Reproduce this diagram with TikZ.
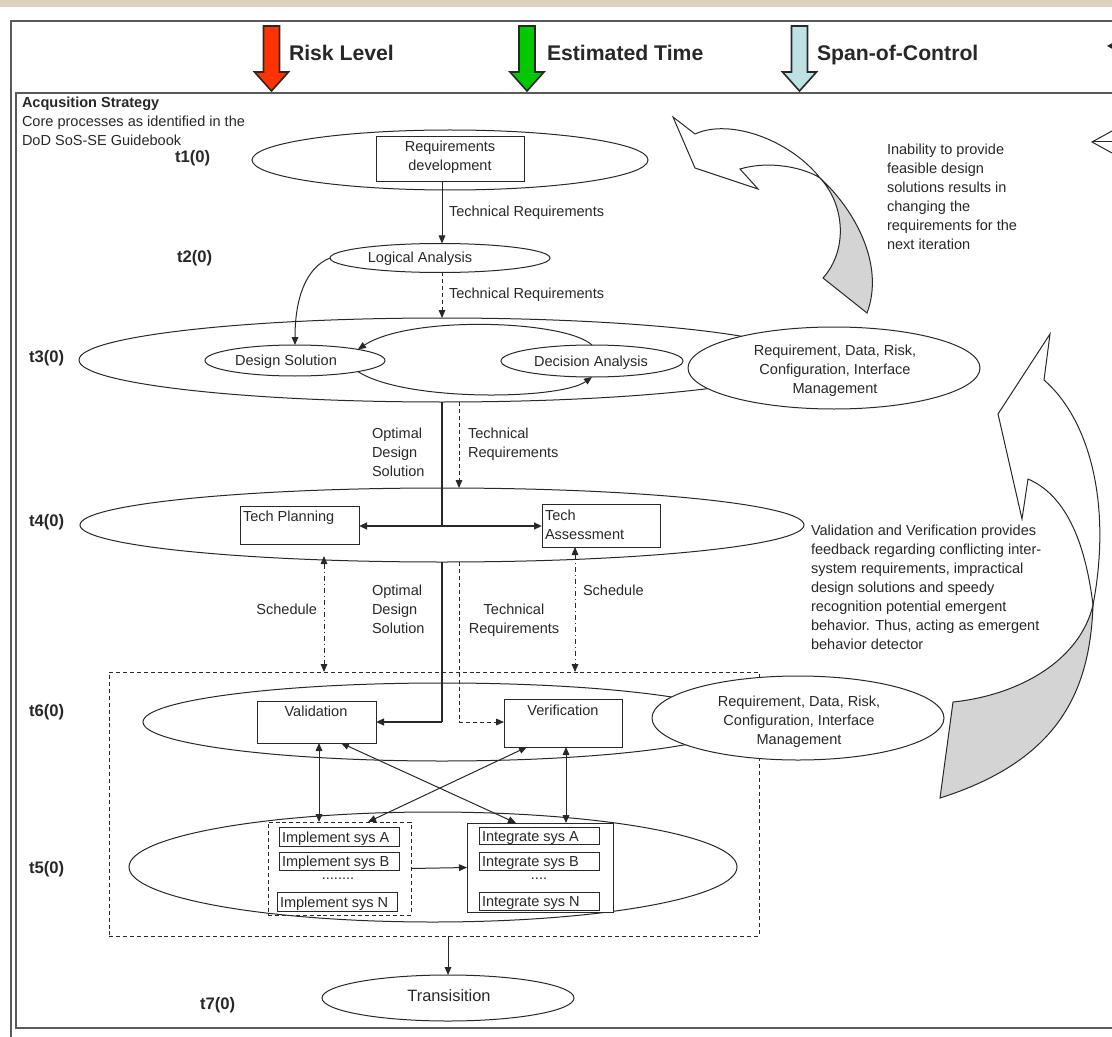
\documentclass[tikz,border=0pt]{standalone}
\usepackage{fontspec}
\setmainfont{Liberation Sans}
\usetikzlibrary{arrows.meta,shapes.geometric,calc}
\definecolor{bandbeige}{RGB}{221,211,195}
\definecolor{riskred}{RGB}{255,51,0}
\definecolor{timegreen}{RGB}{0,200,0}
\definecolor{spanblue}{RGB}{190,226,228}
\definecolor{ribbongray}{RGB}{212,212,212}
\definecolor{ink}{RGB}{40,40,40}
\definecolor{framegray}{RGB}{90,90,90}
\begin{document}
\begin{tikzpicture}[x=0.75pt,y=-0.75pt,
  every node/.style={inner sep=0pt, outer sep=0pt, text=ink},
  lbl/.style={font=\fontsize{10.9}{14.25}\selectfont},
  tlab/.style={font=\fontsize{12.5}{15}\selectfont\bfseries},
  hdr/.style={font=\fontsize{15.9}{19}\selectfont\bfseries},
  ell/.style={ellipse, draw=ink, fill=white, line width=0.75pt},
  plainbox/.style={rectangle, draw=ink, fill=white, line width=0.75pt},
  arrowone/.style={-{Triangle[length=6pt,width=5pt]}},
  arrowtwo/.style={{Triangle[length=6pt,width=5pt]}-{Triangle[length=6pt,width=5pt]}},
  wire/.style={draw=ink, line width=0.75pt},
  heavy/.style={draw=ink, line width=1.6pt},
  dsh/.style={dash pattern=on 3pt off 2.2pt},
  dshdot/.style={dash pattern=on 4pt off 2pt on 1pt off 2pt},
  downarrow/.pic={\path[pic actions] (-8,0) -- (8,0) -- (8,46) -- (17,46) -- (0,65) -- (-17,46) -- (-8,46) -- cycle;}
]
\useasboundingbox (0,0) rectangle (1112,1037);
\clip (0,0) rectangle (1112,1037);
\fill[white] (0,0) rectangle (1112,1037);
\fill[bandbeige] (0,0) rectangle (1112,7);

% frames
\draw[framegray, line width=1pt] (11,1045) -- (11,21) -- (1120,21);
\draw[framegray, line width=1pt] (16,93) rectangle (1120,1028);

% header indicators
\pic[draw=ink, fill=riskred, line width=1.2pt] at (271.5,26) {downarrow};
\pic[draw=ink, fill=timegreen, line width=1.2pt] at (527,26) {downarrow};
\pic[draw=ink, fill=spanblue, line width=1.2pt] at (799.5,26) {downarrow};
\node[hdr, anchor=base west] (hrisk) at (289,60.6) {Risk Level};
\node[hdr, anchor=base west] (htime) at (547,60.6) {Estimated Time};
\node[hdr, anchor=base west] (hspan) at (817,60.6) {Span-of-Control};
\fill[ink] (1107,46) -- (1116,41) -- (1116,51) -- cycle;
\coordinate (openR) at (1120,142);
\coordinate (openT) at (1092,142);
\draw[wire] (openR) -- (openT);
\draw[wire] (1112,131) -- (openT) -- (1112,153);

% multi-line nodes are anchored on the baseline of their last line
\node[lbl, anchor=base west, align=left, font=\fontsize{10.9}{14.6}\selectfont] (strat) at (22,146)
  {\textbf{Acqusition Strategy}\\Core processes as identified in the\\DoD SoS-SE Guidebook};

% feedback ribbon arrows
\draw[ink, line width=0.75pt, fill=white]
  (673,117) -- (695,134) .. controls (730,118) and (790,140) .. (820,178)
  .. controls (805,168) and (770,160) .. (740,169) -- (758,189) -- (695,168) -- cycle;
\draw[ink, line width=0.75pt, fill=ribbongray]
  (820,178) .. controls (855,210) and (885,265) .. (867,313) -- (823,278)
  .. controls (848,250) and (845,205) .. (820,178) -- cycle;
\draw[ink, line width=0.75pt, fill=white]
  (1050,334) -- (1044,380) .. controls (1090,420) and (1112,505) .. (1093,605)
  .. controls (1085,540) and (1065,495) .. (1028,479) -- (1022,519) -- (998,414) -- cycle;
\draw[ink, line width=0.75pt, fill=ribbongray]
  (1093,605) .. controls (1090,690) and (1060,760) .. (940,798) -- (953,702)
  .. controls (1020,695) and (1080,660) .. (1093,605) -- cycle;

\node[lbl, anchor=base west, align=left] (inab) at (887,250)
  {Inability to provide\\feasible design\\solutions results in\\changing the\\requirements for the\\next iteration};
\node[lbl, anchor=base west, align=left] (vvnote) at (811,649)
  {Validation and Verification provides\\feedback regarding conflicting inter-\\system requirements, impractical\\design solutions and speedy\\recognition potential emergent\\behavior. Thus, acting as emergent\\behavior detector};

% phase labels
\node[tlab, anchor=base west] (lt1) at (175,163) {t1(0)};
\node[tlab, anchor=base west] (lt2) at (177,263) {t2(0)};
\node[tlab, anchor=base west] (lt3) at (29,362) {t3(0)};
\node[tlab, anchor=base west] (lt4) at (29,526) {t4(0)};
\node[tlab, anchor=base west] (lt6) at (29,716) {t6(0)};
\node[tlab, anchor=base west] (lt5) at (29,873) {t5(0)};
\node[tlab, anchor=base west] (lt7) at (200,1009) {t7(0)};

% t1
\node[ell, minimum width=297pt, minimum height=45pt] (t1) at (450,160) {};
\node[plainbox, minimum width=111pt, minimum height=33.75pt] (reqdev) at (450,159.5) {};
\node[lbl, anchor=base, align=center] (reqdevtxt) at (450,171) {Requirements\\development};

% t2
\node[ell, minimum width=165pt, minimum height=21.75pt] (la) at (440,258) {};
\node[lbl, anchor=base] (latxt) at (420,263) {Logical Analysis};

% t3
\node[ell, minimum width=544.5pt, minimum height=63pt] (t3) at (442,360) {};
\node[ell, minimum width=135pt, minimum height=23.25pt] (ds) at (295,360.5) {};
\node[ell, minimum width=136.5pt, minimum height=24pt] (da) at (592,361) {};
\node[lbl, anchor=base] (dstxt) at (286,365) {Design Solution};
\node[lbl, anchor=base] (datxt) at (591,366) {Decision Analysis};
\draw[wire, arrowone] (da.north) .. controls (565,320) and (410,315) .. (ds.10);
\draw[wire, arrowone] (ds.-10) .. controls (405,402) and (560,400) .. (da.south);
\node[ell, minimum width=219pt, minimum height=61.5pt] (rm1) at (834,368) {};
\node[lbl, anchor=base, align=center] (rm1txt) at (835,393)
  {Requirement, Data, Risk,\\Configuration, Interface\\Management};

% t4
\node[ell, minimum width=543pt, minimum height=55.5pt] (t4) at (442,525) {};
\node[plainbox, minimum width=89.25pt, minimum height=28.5pt] (tp) at (299.5,525) {};
\node[plainbox, minimum width=88.5pt, minimum height=32.25pt] (ta) at (601,525.5) {};
\node[lbl, anchor=base west] (tptxt) at (243,521) {Tech Planning};
\node[lbl, anchor=base west, align=left] (tatxt) at (545,539) {Tech\\Assessment};

% t6 / t5 group
\node[draw=ink, dsh, line width=0.75pt, minimum width=487.5pt, minimum height=198pt] (dbox) at (434,804) {};
\node[ell, minimum width=448.5pt, minimum height=58.5pt] (t6) at (442,722) {};
\node[plainbox, minimum width=89.25pt, minimum height=31.5pt] (val) at (316.5,722) {};
\node[plainbox, minimum width=88.5pt, minimum height=36pt] (ver) at (563,723) {};
\node[lbl, anchor=base] (valtxt) at (316,716) {Validation};
\node[lbl, anchor=base] (vertxt) at (563,715) {Verification};
\node[ell, minimum width=219pt, minimum height=63pt] (rm2) at (798,718) {};
\node[lbl, anchor=base, align=center] (rm2txt) at (799,744)
  {Requirement, Data, Risk,\\Configuration, Interface\\Management};

\node[ell, minimum width=456pt, minimum height=82.5pt] (t5) at (433,867) {};
\node[draw=ink, dsh, line width=0.75pt, minimum width=107.25pt, minimum height=69.75pt] (impl) at (339.5,868.5) {};
\node[plainbox, minimum width=90pt, minimum height=14.25pt] (ia) at (339,836.5) {};
\node[plainbox, minimum width=90pt, minimum height=13.5pt] (ib) at (339,861) {};
\node[plainbox, minimum width=90pt, minimum height=14.25pt] (inn) at (337,901.5) {};
\node[lbl, anchor=base west] (iatxt) at (282,842) {Implement sys A};
\node[lbl, anchor=base west] (ibtxt) at (282,866) {Implement sys B};
\node[lbl, anchor=base west] (inntxt) at (280,907) {Implement sys N};
\node[lbl, anchor=base] (idots) at (338,879) {........};
\node[plainbox, minimum width=109.5pt, minimum height=66.75pt] (integ) at (540,867.5) {};
\node[plainbox, minimum width=90pt, minimum height=12.75pt] (ga) at (539,835.5) {};
\node[plainbox, minimum width=90pt, minimum height=13.5pt] (gb) at (539,861) {};
\node[plainbox, minimum width=90pt, minimum height=13.5pt] (gn) at (539,901) {};
\node[lbl, anchor=base west] (gatxt) at (482,841) {Integrate sys A};
\node[lbl, anchor=base west] (gbtxt) at (482,866) {Integrate sys B};
\node[lbl, anchor=base west] (gntxt) at (482,906) {Integrate sys N};
\node[lbl, anchor=base] (gdots) at (539,879) {....};

% t7
\node[ell, minimum width=189pt, minimum height=34.5pt] (tr) at (448,998) {};
\node[anchor=base, font=\fontsize{12.3}{15}\selectfont] (trtxt) at (449,1001) {Transisition};

% connectors
\coordinate (axisA) at (442,0);
\coordinate (axisB) at (459,0);
\draw[wire, arrowone] (reqdev.south -| axisA) -- (la.north -| axisA);
\node[lbl, anchor=base west] (tr1) at (449,217) {Technical Requirements};
\draw[wire, dsh, arrowone] (la.south -| axisA) -- (t3.north -| axisA);
\node[lbl, anchor=base west] (tr2) at (449,299) {Technical Requirements};
\draw[wire, arrowone] (la.west) .. controls (305,268) and (295,300) .. (ds.north);

\coordinate (split1) at (442,526);
\draw[heavy] (t3.south) -- (split1);
\draw[heavy, arrowone] (split1) -- (split1 -| tp.east);
\draw[heavy, arrowone] (split1) -- (split1 -| ta.west);
\draw[wire, dsh, arrowone] (t3.south -| axisB) -- (t4.north -| axisB);
\node[lbl, anchor=base west, align=left] (ods1) at (372,476) {Optimal\\Design\\Solution};
\node[lbl, anchor=base west, align=left] (trq1) at (468,457) {Technical\\Requirements};

\coordinate (schedL) at (324,0);
\coordinate (schedR) at (575,0);
\draw[wire, dshdot, arrowtwo] ($(tp.south -| schedL)+(0,12)$) -- (dbox.north -| schedL);
\draw[wire, dshdot, arrowtwo] (ta.south -| schedR) -- (dbox.north -| schedR);
\node[lbl, anchor=base east] (sch1) at (317,614) {Schedule};
\node[lbl, anchor=base west] (sch2) at (583,595) {Schedule};

\coordinate (split2) at (442,722);
\draw[heavy] (t4.south) -- (split2);
\draw[heavy, arrowone] (split2) -- (split2 -| val.east);
\coordinate (split3) at (459,722);
\draw[wire, dsh] (t4.south -| axisB) -- (split3);
\draw[wire, dsh, arrowone] (split3) -- (split3 -| ver.west);
\node[lbl, anchor=base west, align=left] (ods2) at (372,633) {Optimal\\Design\\Solution};
\node[lbl, anchor=base, align=center] (trq2) at (514,633) {Technical\\Requirements};

\coordinate (vv1) at (319,0);
\coordinate (vv2) at (566,0);
\coordinate (dg1) at (341,0);
\coordinate (dg2) at (516,0);
\coordinate (dg3) at (527,0);
\coordinate (dg4) at (368,0);
\draw[wire, arrowtwo] (val.south -| vv1) -- (impl.north -| vv1);
\draw[wire, arrowtwo] (val.south -| dg1) -- (integ.north -| dg2);
\draw[wire, arrowtwo] (ver.south -| dg3) -- (impl.north -| dg4);
\draw[wire, arrowtwo] (ver.south -| vv2) -- (integ.north -| vv2);
\draw[wire, arrowone] (impl.east) -- (integ.west);
\draw[wire, arrowone] (dbox.south -| tr.north) -- (tr.north);
\end{tikzpicture}
\end{document}
